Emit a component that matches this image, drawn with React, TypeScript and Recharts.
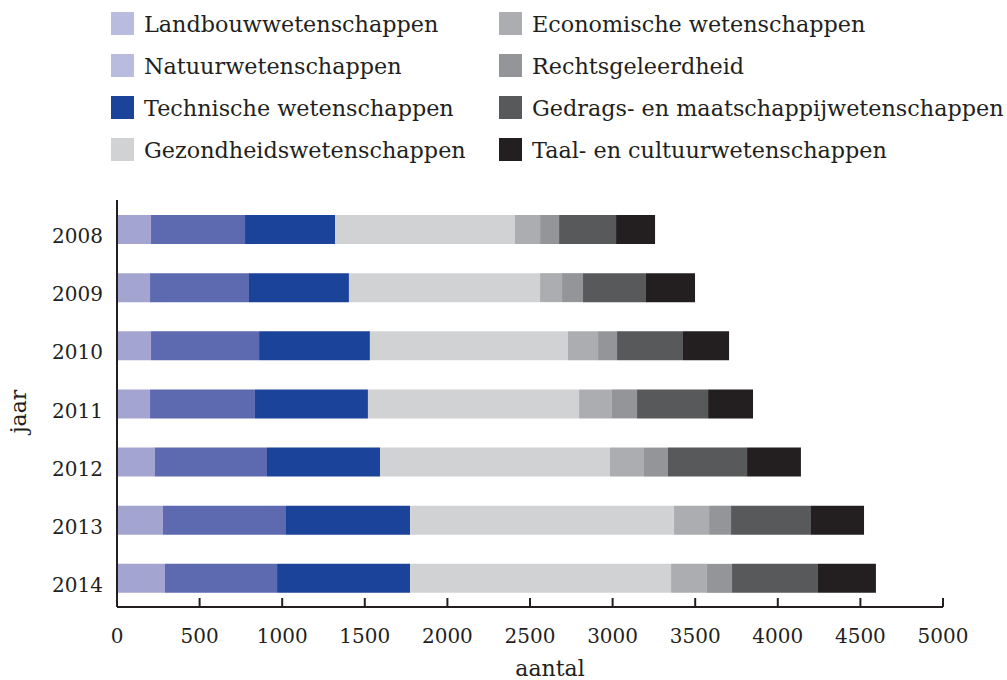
import React from 'react';
import { Bar, BarChart, XAxis, YAxis, Label } from 'recharts';

const years = ['2008', '2009', '2010', '2011', '2012', '2013', '2014'];

const landbouw = [206, 200, 206, 200, 230, 278, 290];
const natuur = [569, 599, 654, 635, 678, 745, 679];
const techniek = [545, 605, 671, 684, 684, 751, 805];
const gezondheid = [1089, 1157, 1199, 1278, 1392, 1598, 1580];
const economie = [152, 133, 182, 199, 206, 212, 217];
const recht = [115, 127, 115, 152, 145, 133, 152];
const gedrag = [345, 381, 399, 430, 479, 484, 520];
const taal = [236, 297, 279, 272, 326, 321, 351];

const xTicks = [0, 500, 1000, 1500, 2000, 2500, 3000, 3500, 4000, 4500, 5000];

const SERIES = [
  { key: 'landbouw', name: 'Landbouwwetenschappen', values: landbouw, color: '#A3A4D0', legend: '#B9BCDE' },
  { key: 'natuur', name: 'Natuurwetenschappen', values: natuur, color: '#5E6AAF', legend: '#B9BCDE' },
  { key: 'techniek', name: 'Technische wetenschappen', values: techniek, color: '#1B4399', legend: '#1B4399' },
  { key: 'gezondheid', name: 'Gezondheidswetenschappen', values: gezondheid, color: '#D1D2D4', legend: '#D1D2D4' },
  { key: 'economie', name: 'Economische wetenschappen', values: economie, color: '#ACADB0', legend: '#ACADB0' },
  { key: 'recht', name: 'Rechtsgeleerdheid', values: recht, color: '#939598', legend: '#939598' },
  { key: 'gedrag', name: 'Gedrags- en maatschappijwetenschappen', values: gedrag, color: '#58595B', legend: '#58595B' },
  { key: 'taal', name: 'Taal- en cultuurwetenschappen', values: taal, color: '#231F20', legend: '#231F20' },
];

const data = years.map((year, i) => {
  const row: Record<string, string | number> = { year };
  SERIES.forEach((s) => {
    row[s.key] = s.values[i];
  });
  return row;
});

const INK = '#231F20';
const FONT = '"DejaVu Serif", serif';

const XTick = (props: any) => {
  const { x, y, payload } = props;
  return (
    <g>
      <line x1={x} x2={x} y1={y - 9} y2={y} stroke={INK} strokeWidth={2} />
      <text x={x} y={y + 36} textAnchor="middle" fill={INK} fontSize={20} fontFamily={FONT}>
        {payload.value}
      </text>
    </g>
  );
};

// year labels sit a little below the bar centre in the original
const YTick = (props: any) => {
  const { x, y, payload } = props;
  return (
    <text x={x} y={y + 14} textAnchor="end" fill={INK} fontSize={20} fontFamily={FONT}>
      {payload.value}
    </text>
  );
};

const YTitle = (props: any) => {
  const vb = props.viewBox || { x: 0, y: 200, width: 117, height: 407 };
  const cx = vb.x + 20;
  const cy = vb.y + vb.height / 2 + 8;
  return (
    <text x={cx} y={cy} transform={`rotate(-90 ${cx} ${cy})`} textAnchor="middle" dominantBaseline="middle" fill={INK} fontSize={22} fontFamily={FONT}>
      jaar
    </text>
  );
};

const XTitle = (props: any) => {
  const vb = props.viewBox || { x: 117, y: 607, width: 826, height: 73 };
  return (
    <text x={vb.x + vb.width / 2 + 20} y={vb.y + 69} textAnchor="middle" fill={INK} fontSize={22} fontFamily={FONT}>
      aantal
    </text>
  );
};

function ChartLegend() {
  return (
    <div style={{ position: 'absolute', left: 0, top: 0, width: 1007, height: 180, pointerEvents: 'none' }}>
      {SERIES.map((s, i) => {
        const col = i < 4 ? 0 : 1;
        const row = i % 4;
        return (
          <div
            key={s.key}
            style={{
              position: 'absolute',
              left: col === 0 ? 111 : 499,
              top: 11 + row * 42,
              display: 'flex',
              alignItems: 'flex-start',
              whiteSpace: 'nowrap',
            }}
          >
            <div style={{ width: 23, height: 23, background: s.legend, marginTop: 1 }} />
            <span style={{ marginLeft: 10, fontFamily: FONT, fontSize: 22.3, lineHeight: '26px', color: INK }}>{s.name}</span>
          </div>
        );
      })}
    </div>
  );
}

export default function App() {
  return (
    <div style={{ position: 'absolute', left: 0, top: 0, width: 1007, height: 680, background: '#fff' }}>
      <BarChart
        width={1007}
        height={680}
        data={data}
        layout="vertical"
        margin={{ top: 200, right: 64, bottom: 0, left: 0 }}
        barSize={29}
      >
        <XAxis
          type="number"
          domain={[0, 5000]}
          ticks={xTicks}
          height={73}
          tickSize={0}
          tickMargin={0}
          tickLine={false}
          tick={<XTick />}
          axisLine={{ stroke: INK, strokeWidth: 2 }}
          interval={0}
        >
          <Label content={<XTitle />} />
        </XAxis>
        <YAxis
          type="category"
          dataKey="year"
          width={117}
          tickSize={0}
          tickMargin={14}
          tickLine={false}
          axisLine={{ stroke: INK, strokeWidth: 2 }}
          tick={<YTick />}
        >
          <Label content={<YTitle />} />
        </YAxis>
        {SERIES.map((s) => (
          <Bar key={s.key} dataKey={s.key} name={s.name} stackId="a" fill={s.color} isAnimationActive={false} />
        ))}
      </BarChart>
      <ChartLegend />
    </div>
  );
}
